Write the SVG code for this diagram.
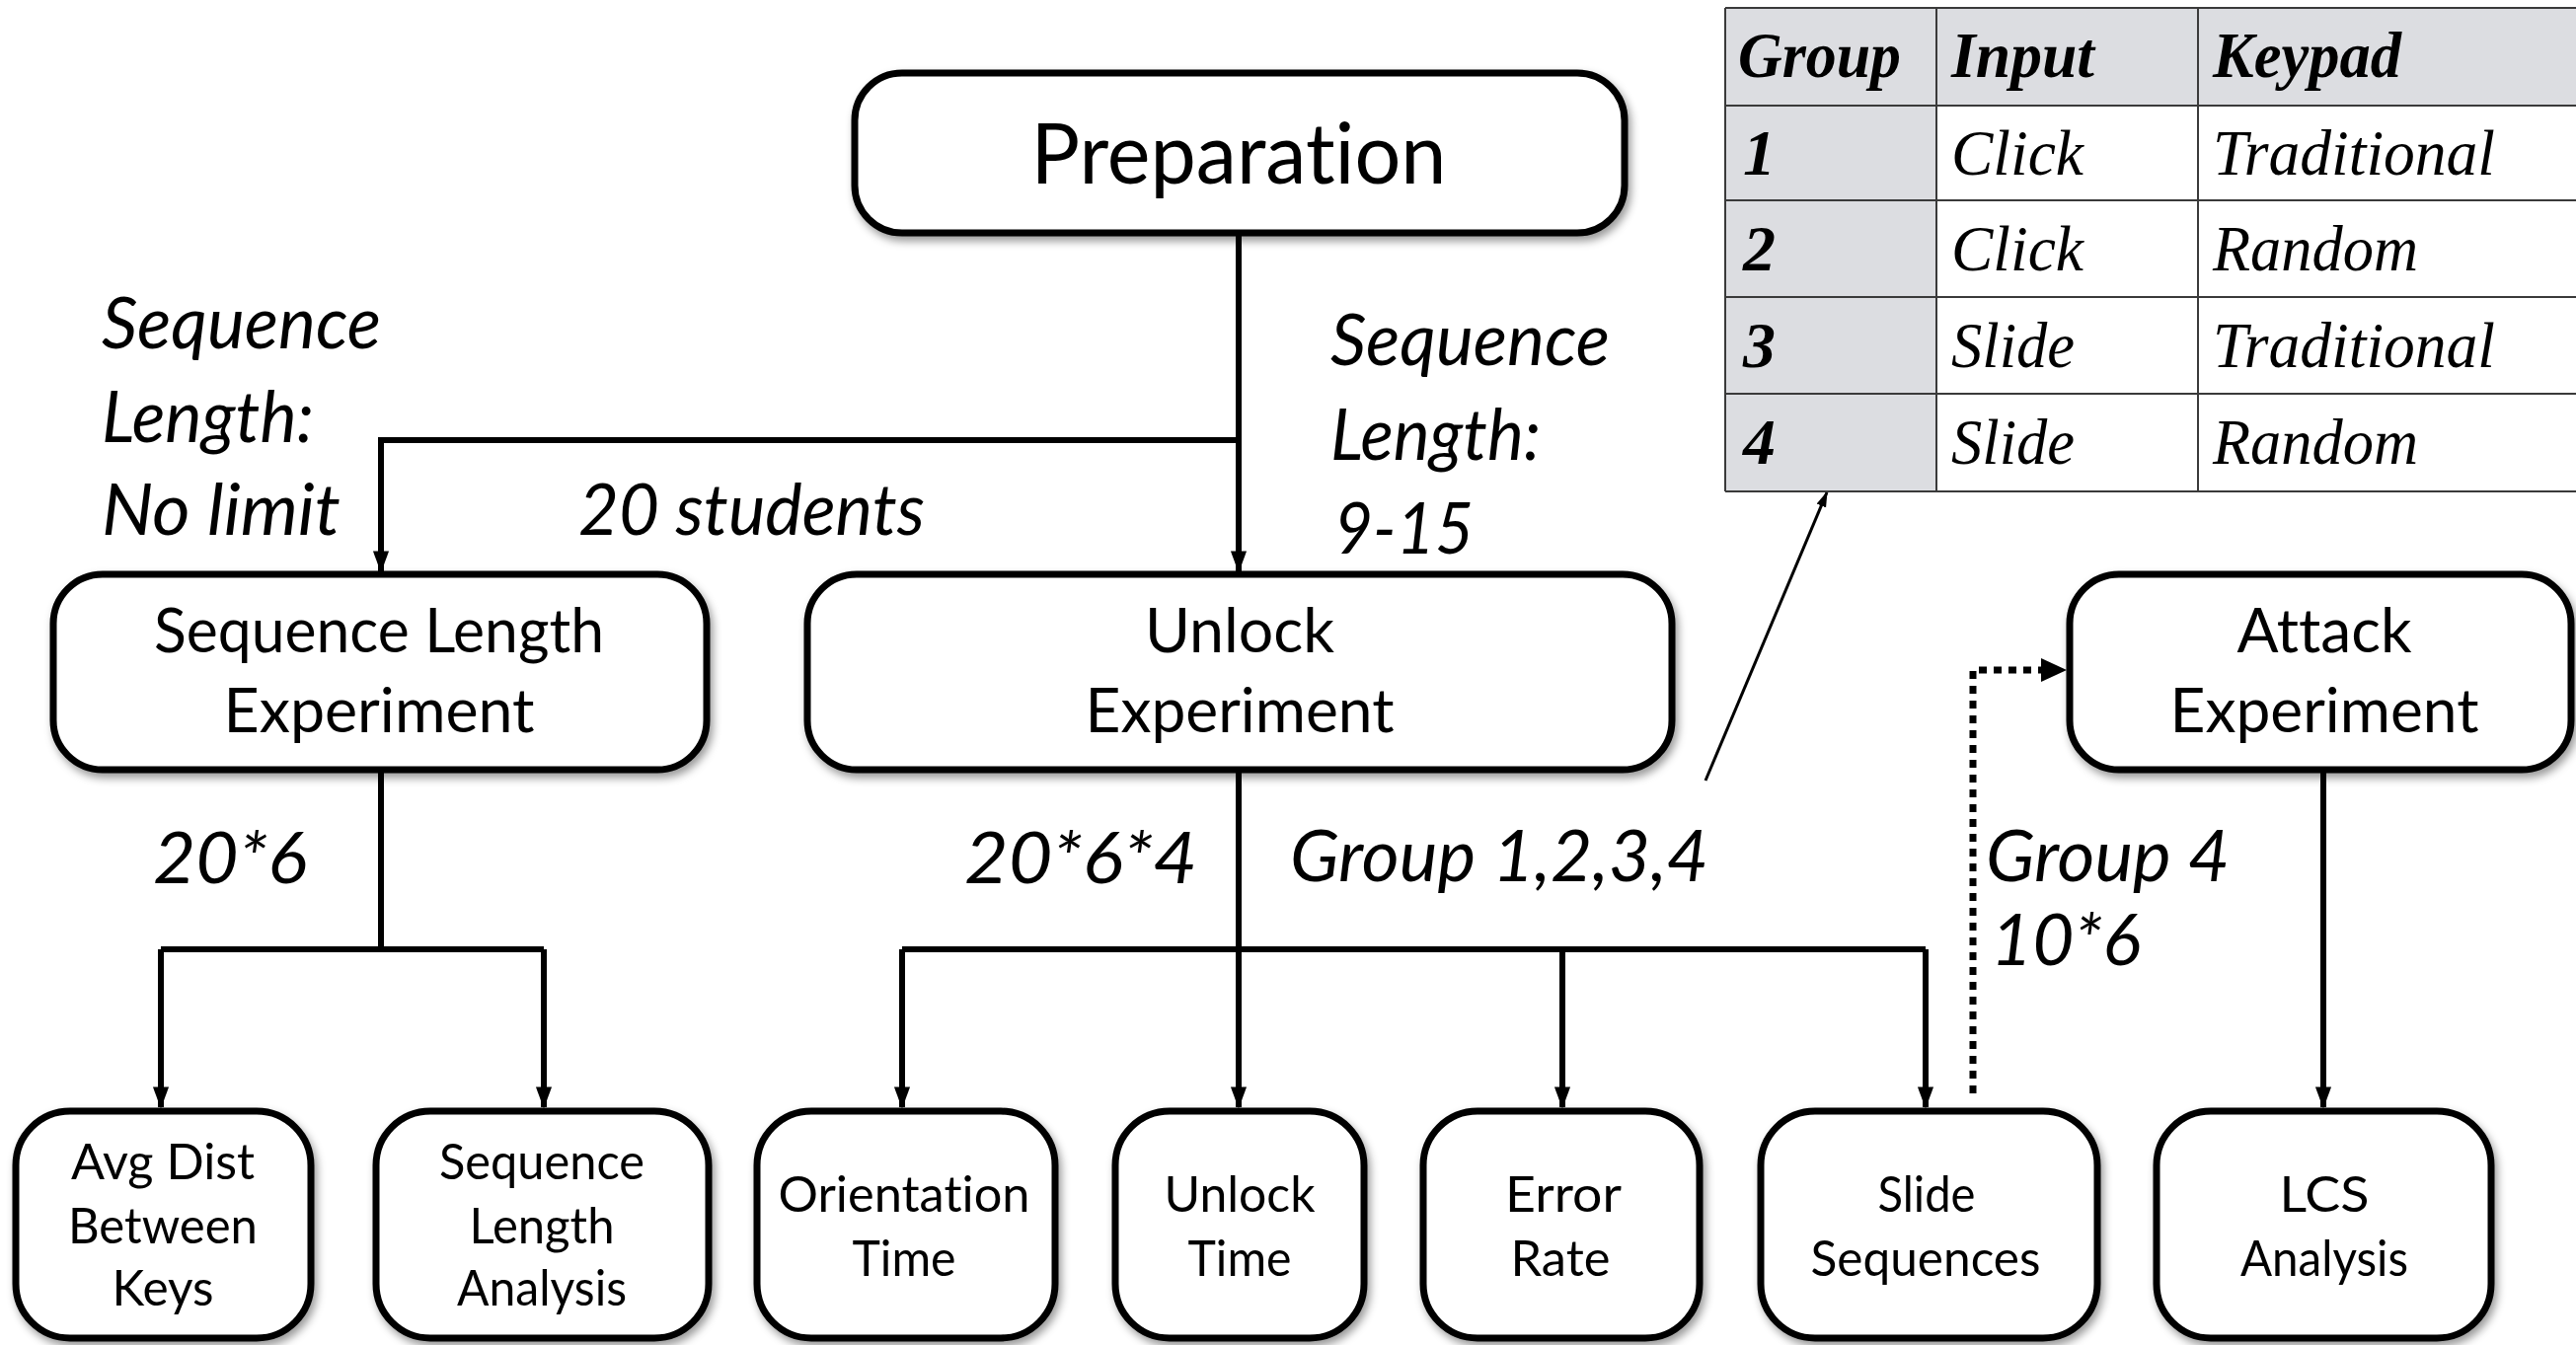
<svg xmlns="http://www.w3.org/2000/svg" width="2610" height="1363" viewBox="0 0 2610 1363">
  <style>
    .box { fill: #ffffff; stroke: #000000; stroke-width: 7; filter: url(#shadow); }
    .lbl { font-family: "Lato", "Open Sans", sans-serif; fill: #000; text-anchor: middle; font-variant-ligatures: none; }
    .it { font-family: "Lato", "Open Sans", sans-serif; font-style: italic; fill: #000; font-variant-ligatures: none; }
    .wire { fill: none; stroke: #000; stroke-width: 6; }
    .dots { fill: none; stroke: #000; stroke-width: 7; stroke-dasharray: 8 7; }
    .tcell { stroke: #3a3a3a; stroke-width: 2; }
    .th { font-family: "Liberation Serif", "Times New Roman", serif; font-style: italic; font-weight: bold; font-size: 66px; fill: #000; }
    .td { font-family: "Liberation Serif", "Times New Roman", serif; font-style: italic; font-size: 66px; fill: #000; }
  </style>
  <defs>
    <filter id="shadow" x="-10%" y="-10%" width="125%" height="130%">
      <feDropShadow dx="3" dy="5" stdDeviation="4" flood-color="#000" flood-opacity="0.4"/>
    </filter>
    <marker id="arrow" markerUnits="userSpaceOnUse" markerWidth="22" markerHeight="30" refX="28" refY="11" viewBox="0 0 30 22" orient="auto">
      <path d="M0,0 L30,11 L0,22 Z" fill="#000"/>
    </marker>
    <marker id="thin" markerUnits="userSpaceOnUse" markerWidth="16" markerHeight="20" refX="20" refY="7" viewBox="0 0 22 14" orient="auto">
      <path d="M0,0 L22,7 L0,14 Z" fill="#000"/>
    </marker>
  </defs>

  <rect width="2610" height="1363" fill="#ffffff"/>

  <!-- connectors -->
  <g id="connectors">
    <path class="wire" d="M1255,238 V579" marker-end="url(#arrow)"/>
    <path class="wire" d="M1255,446 H386 V579" marker-end="url(#arrow)"/>
    <path class="wire" d="M386,781 V962"/>
    <path class="wire" d="M163,962 H551"/>
    <path class="wire" d="M163,962 V1122" marker-end="url(#arrow)"/>
    <path class="wire" d="M551,962 V1122" marker-end="url(#arrow)"/>
    <path class="wire" d="M1255,781 V1122" marker-end="url(#arrow)"/>
    <path class="wire" d="M914,962 H1951"/>
    <path class="wire" d="M914,962 V1122" marker-end="url(#arrow)"/>
    <path class="wire" d="M1583,962 V1122" marker-end="url(#arrow)"/>
    <path class="wire" d="M1951,962 V1122" marker-end="url(#arrow)"/>
    <path class="wire" d="M2354,781 V1122" marker-end="url(#arrow)"/>
    <path class="dots" d="M1999,1108 V679 H2070"/>
    <path d="M2068,667 L2094,679 L2068,691 Z" fill="#000"/>
    <path fill="none" stroke="#000" stroke-width="3" d="M1728,791 L1851,499" marker-end="url(#thin)"/>
  </g>

  <!-- edge labels -->
  <g id="edge-labels">
    <text class="it" x="103" y="353" font-size="72" textLength="283" lengthAdjust="spacingAndGlyphs">Sequence</text>
    <text class="it" x="103" y="448" font-size="72" textLength="215" lengthAdjust="spacingAndGlyphs">Length:</text>
    <text class="it" x="103" y="542" font-size="72" textLength="242" lengthAdjust="spacingAndGlyphs">No limit</text>
    <text class="it" x="586" y="542" font-size="72" textLength="351" lengthAdjust="spacingAndGlyphs">20 students</text>
    <text class="it" x="1348" y="370" font-size="72" textLength="283" lengthAdjust="spacingAndGlyphs">Sequence</text>
    <text class="it" x="1348" y="466" font-size="72" textLength="213" lengthAdjust="spacingAndGlyphs">Length:</text>
    <text class="it" x="1352" y="561" font-size="72" textLength="141" lengthAdjust="spacingAndGlyphs">9-15</text>
    <text class="it" x="155" y="895" font-size="72" textLength="156" lengthAdjust="spacingAndGlyphs">20*6</text>
    <text class="it" x="977" y="895" font-size="72" textLength="236" lengthAdjust="spacingAndGlyphs">20*6*4</text>
    <text class="it" x="1307" y="893" font-size="72" textLength="424" lengthAdjust="spacingAndGlyphs">Group 1,2,3,4</text>
    <text class="it" x="2012" y="893" font-size="72" textLength="247" lengthAdjust="spacingAndGlyphs">Group 4</text>
    <text class="it" x="2017" y="978" font-size="72" textLength="152" lengthAdjust="spacingAndGlyphs">10*6</text>
  </g>

  <!-- group table -->
  <g id="group-table">
    <rect x="1748" y="8" width="866" height="99" fill="#dcdde1"/>
    <rect x="1748" y="107" width="214" height="391" fill="#dcdde1"/>
    <g class="tcell">
      <line x1="1748" y1="8" x2="2612" y2="8"/>
      <line x1="1748" y1="107" x2="2612" y2="107"/>
      <line x1="1748" y1="203" x2="2612" y2="203"/>
      <line x1="1748" y1="301" x2="2612" y2="301"/>
      <line x1="1748" y1="399" x2="2612" y2="399"/>
      <line x1="1748" y1="498" x2="2612" y2="498"/>
      <line x1="1748" y1="8" x2="1748" y2="498"/>
      <line x1="1962" y1="8" x2="1962" y2="498"/>
      <line x1="2227" y1="8" x2="2227" y2="498"/>
    </g>
    <text class="th" x="1761" y="78" textLength="165" lengthAdjust="spacingAndGlyphs">Group</text>
    <text class="th" x="1977" y="78" textLength="145" lengthAdjust="spacingAndGlyphs">Input</text>
    <text class="th" x="2242" y="78" textLength="191" lengthAdjust="spacingAndGlyphs">Keypad</text>
    <text class="th" x="1766" y="177">1</text>
    <text class="th" x="1766" y="274">2</text>
    <text class="th" x="1766" y="372">3</text>
    <text class="th" x="1766" y="470">4</text>
    <text class="td" x="1977" y="177" textLength="134" lengthAdjust="spacingAndGlyphs">Click</text>
    <text class="td" x="1977" y="274" textLength="134" lengthAdjust="spacingAndGlyphs">Click</text>
    <text class="td" x="1977" y="372" textLength="125" lengthAdjust="spacingAndGlyphs">Slide</text>
    <text class="td" x="1977" y="470" textLength="125" lengthAdjust="spacingAndGlyphs">Slide</text>
    <text class="td" x="2242" y="177" textLength="286" lengthAdjust="spacingAndGlyphs">Traditional</text>
    <text class="td" x="2242" y="274" textLength="208" lengthAdjust="spacingAndGlyphs">Random</text>
    <text class="td" x="2242" y="372" textLength="286" lengthAdjust="spacingAndGlyphs">Traditional</text>
    <text class="td" x="2242" y="470" textLength="208" lengthAdjust="spacingAndGlyphs">Random</text>
  </g>

  <!-- top level -->
  <g id="preparation">
    <rect class="box" x="866" y="74" width="780" height="162" rx="48"/>
    <text class="lbl" x="1255" y="186" font-size="86" textLength="421" lengthAdjust="spacingAndGlyphs">Preparation</text>
  </g>

  <!-- experiments -->
  <g id="sequence-length-experiment">
    <rect class="box" x="54" y="582" width="662" height="198" rx="50"/>
    <text class="lbl" x="384" y="661" font-size="62" textLength="456" lengthAdjust="spacingAndGlyphs">Sequence Length</text>
    <text class="lbl" x="384" y="742" font-size="62" textLength="315" lengthAdjust="spacingAndGlyphs">Experiment</text>
  </g>
  <g id="unlock-experiment">
    <rect class="box" x="818" y="582" width="876" height="198" rx="50"/>
    <text class="lbl" x="1256" y="661" font-size="62" textLength="192" lengthAdjust="spacingAndGlyphs">Unlock</text>
    <text class="lbl" x="1256" y="742" font-size="62" textLength="313" lengthAdjust="spacingAndGlyphs">Experiment</text>
  </g>
  <g id="attack-experiment">
    <rect class="box" x="2097" y="582" width="508" height="198" rx="50"/>
    <text class="lbl" x="2355" y="661" font-size="62" textLength="177" lengthAdjust="spacingAndGlyphs">Attack</text>
    <text class="lbl" x="2355" y="742" font-size="62" textLength="313" lengthAdjust="spacingAndGlyphs">Experiment</text>
  </g>

  <!-- analysis results -->
  <g id="avg-dist">
    <rect class="box" x="16" y="1126" width="299" height="230" rx="55"/>
    <text class="lbl" x="165" y="1195" font-size="50" textLength="186" lengthAdjust="spacingAndGlyphs">Avg Dist</text>
    <text class="lbl" x="165" y="1260" font-size="50" textLength="192" lengthAdjust="spacingAndGlyphs">Between</text>
    <text class="lbl" x="165" y="1323" font-size="50" textLength="103" lengthAdjust="spacingAndGlyphs">Keys</text>
  </g>
  <g id="sequence-length-analysis">
    <rect class="box" x="381" y="1126" width="337" height="230" rx="55"/>
    <text class="lbl" x="549" y="1195" font-size="50" textLength="208" lengthAdjust="spacingAndGlyphs">Sequence</text>
    <text class="lbl" x="549" y="1260" font-size="50" textLength="147" lengthAdjust="spacingAndGlyphs">Length</text>
    <text class="lbl" x="549" y="1323" font-size="50" textLength="172" lengthAdjust="spacingAndGlyphs">Analysis</text>
  </g>
  <g id="orientation-time">
    <rect class="box" x="767" y="1126" width="302" height="230" rx="55"/>
    <text class="lbl" x="916" y="1228" font-size="50" textLength="255" lengthAdjust="spacingAndGlyphs">Orientation</text>
    <text class="lbl" x="916" y="1293" font-size="50" textLength="105" lengthAdjust="spacingAndGlyphs">Time</text>
  </g>
  <g id="unlock-time">
    <rect class="box" x="1130" y="1126" width="252" height="230" rx="55"/>
    <text class="lbl" x="1256" y="1228" font-size="50" textLength="153" lengthAdjust="spacingAndGlyphs">Unlock</text>
    <text class="lbl" x="1256" y="1293" font-size="50" textLength="105" lengthAdjust="spacingAndGlyphs">Time</text>
  </g>
  <g id="error-rate">
    <rect class="box" x="1442" y="1126" width="280" height="230" rx="55"/>
    <text class="lbl" x="1584" y="1228" font-size="50" textLength="118" lengthAdjust="spacingAndGlyphs">Error</text>
    <text class="lbl" x="1581" y="1293" font-size="50" textLength="101" lengthAdjust="spacingAndGlyphs">Rate</text>
  </g>
  <g id="slide-sequences">
    <rect class="box" x="1784" y="1126" width="341" height="230" rx="55"/>
    <text class="lbl" x="1952" y="1228" font-size="50" textLength="99" lengthAdjust="spacingAndGlyphs">Slide</text>
    <text class="lbl" x="1951" y="1293" font-size="50" textLength="233" lengthAdjust="spacingAndGlyphs">Sequences</text>
  </g>
  <g id="lcs-analysis">
    <rect class="box" x="2185" y="1126" width="339" height="230" rx="55"/>
    <text class="lbl" x="2355" y="1228" font-size="50" textLength="91" lengthAdjust="spacingAndGlyphs">LCS</text>
    <text class="lbl" x="2355" y="1293" font-size="50" textLength="170" lengthAdjust="spacingAndGlyphs">Analysis</text>
  </g>
</svg>
